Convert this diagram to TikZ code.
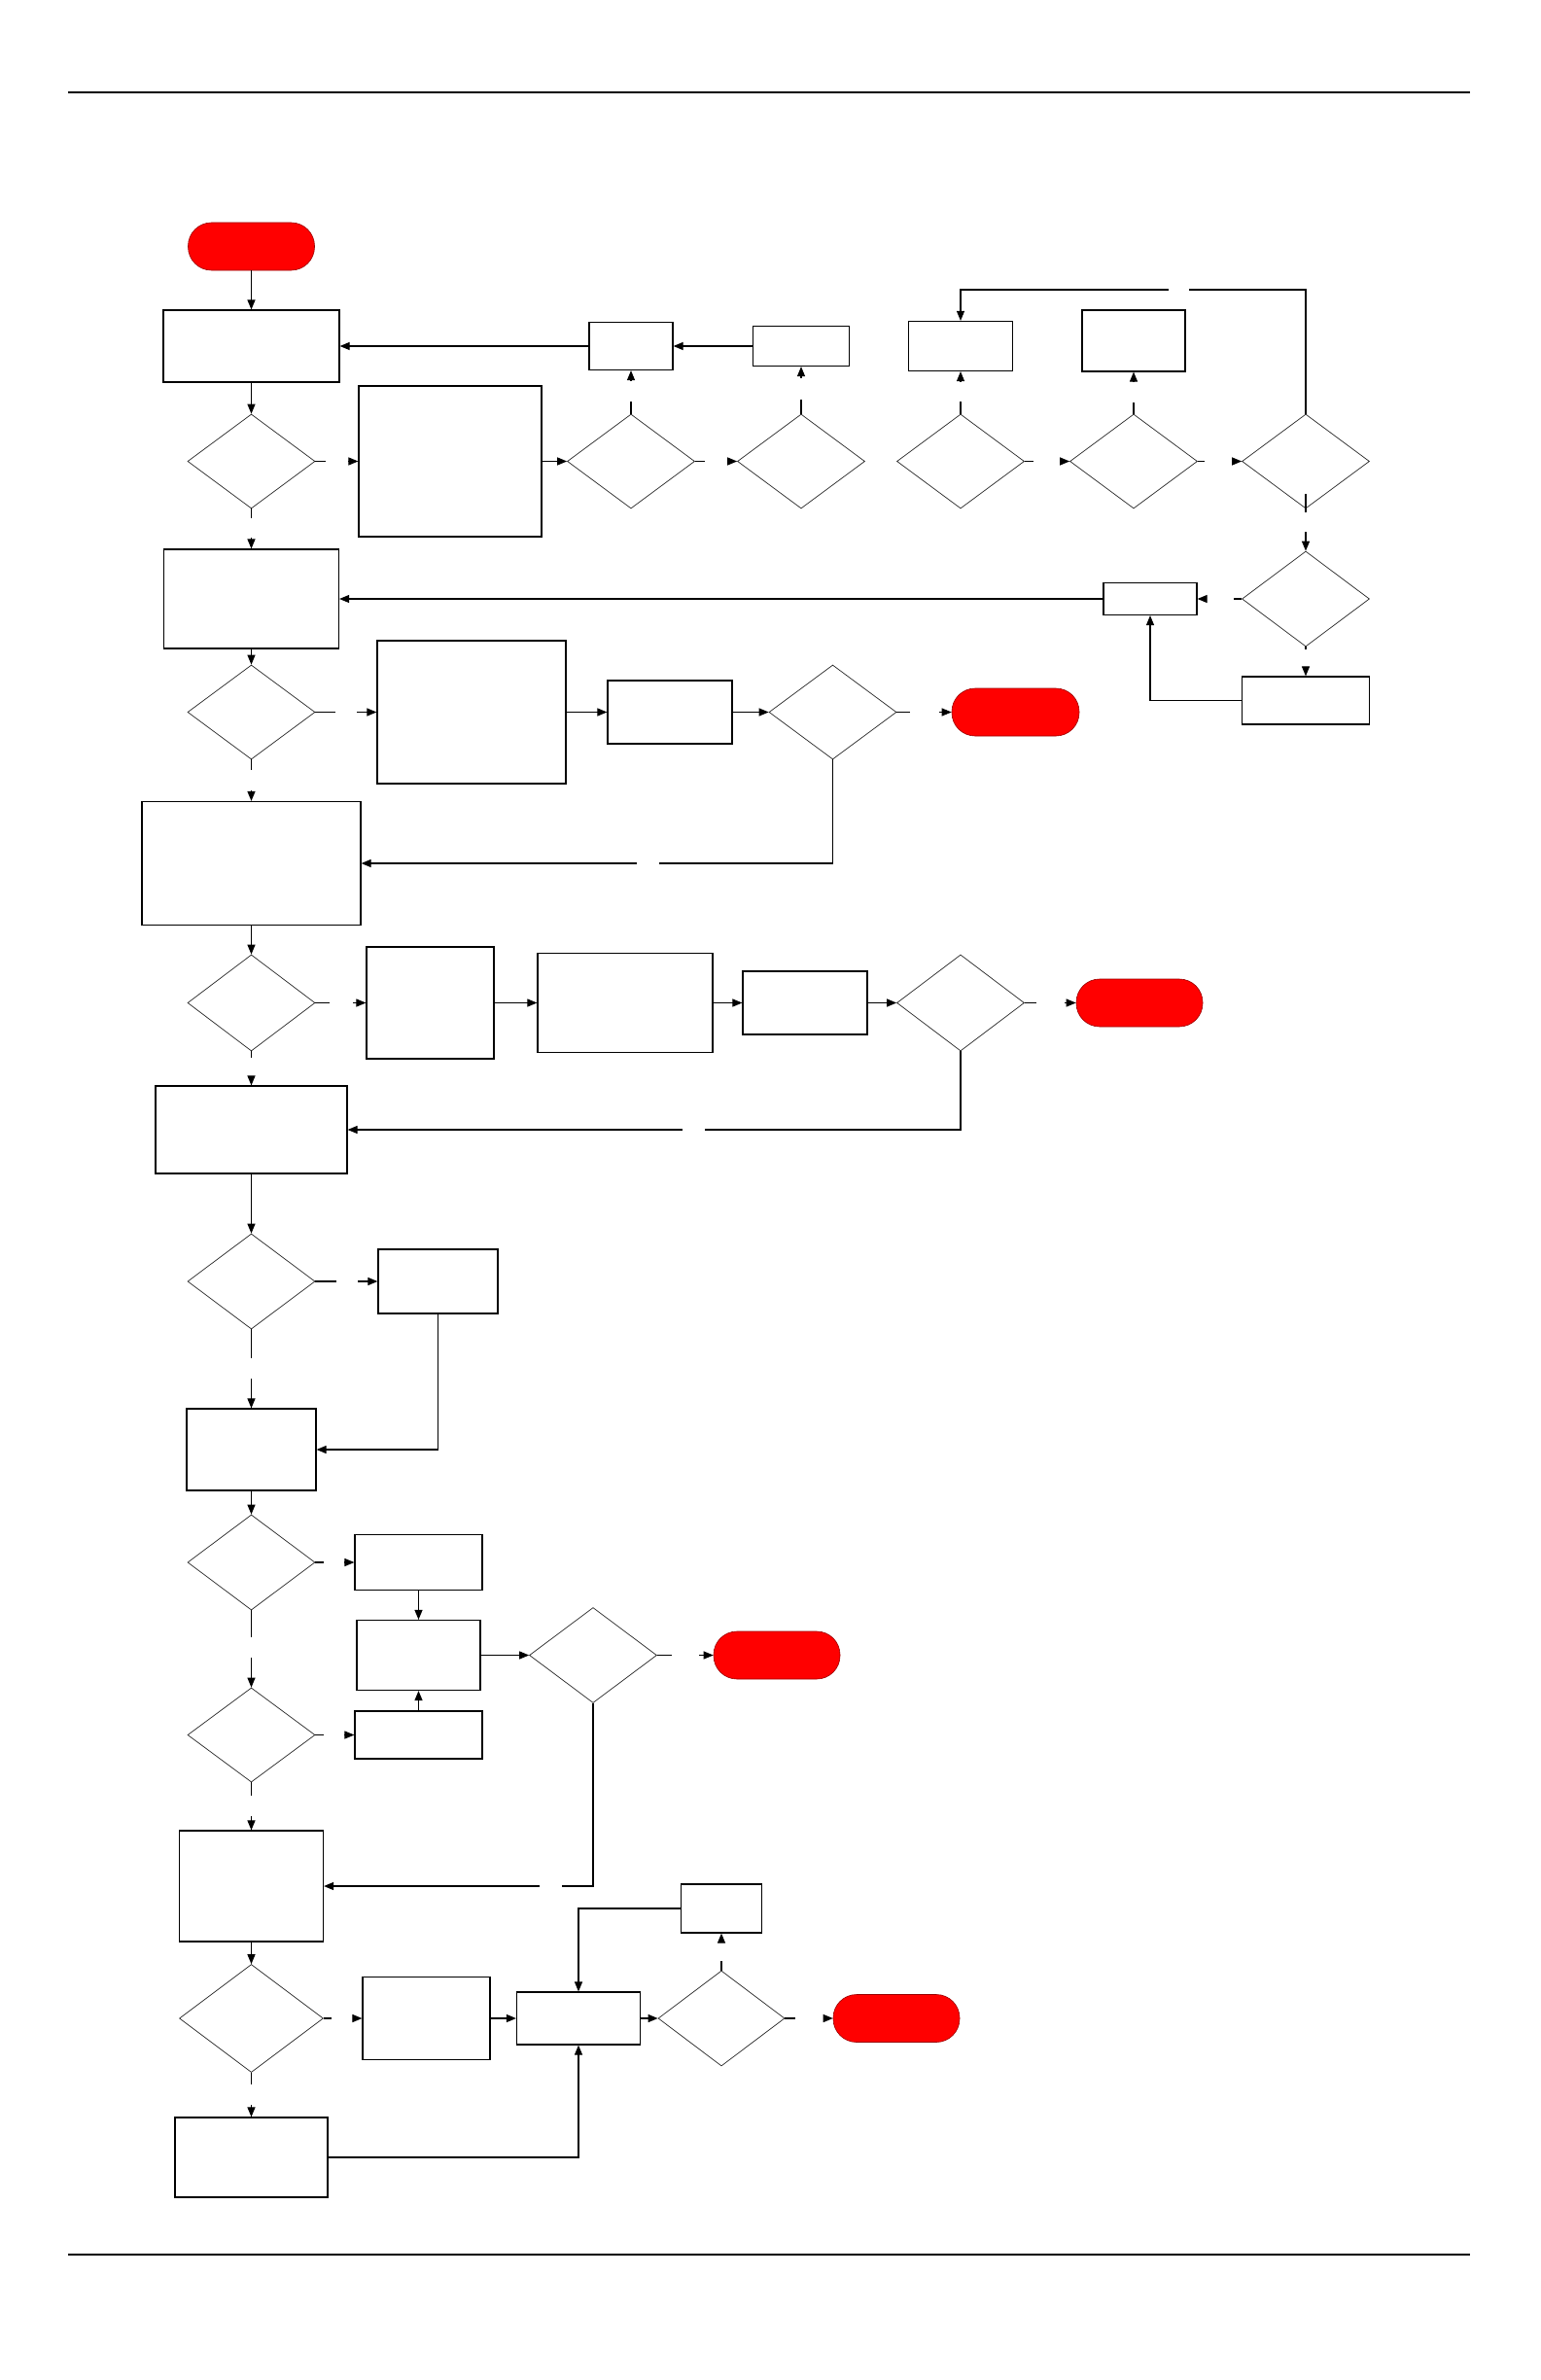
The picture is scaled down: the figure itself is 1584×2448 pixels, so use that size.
\documentclass[tikz,border=0pt]{standalone}
\usetikzlibrary{shapes.geometric,arrows.meta}
\begin{document}
\begin{tikzpicture}[x=1pt,y=-1pt,
 boxn/.style={draw,rectangle,line width=1.2pt,inner sep=0pt},
 decn/.style={draw=black!85,diamond,line width=0.7pt,inner sep=0pt},
 termn/.style={draw=red!60!black,fill=red,rectangle,rounded corners=24pt,line width=0.6pt,inner sep=0pt},
 sz/.style 2 args={minimum width=#1pt,minimum height=#2pt},
 conn/.style={line width=1.1pt},
 arr/.style={conn,-{Triangle[length=10pt,width=8pt]}},
 rulen/.style={line width=1.4pt}]
\path[fill=white] (0,0) rectangle (1584,2448);
\useasboundingbox (0,0) rectangle (1584,2448);
% page rules
\draw[rulen] (70,95) -- (1512,95);
\draw[rulen] (70,2319) -- (1512,2319);
% terminators
\node[termn,sz={130}{49}] (st) at (258.5,253.5) {};
\node[termn,sz={131}{49}] (e1) at (1044.5,732.5) {};
\node[termn,sz={130}{49}] (e2) at (1172,1031.5) {};
\node[termn,sz={130}{49}] (e3) at (799,1702.5) {};
\node[termn,sz={130}{49}] (e4) at (922,2076) {};
% boxes
\node[boxn,sz={181}{74}] (b1) at (258.5,356) {};
\node[boxn,sz={188}{155}] (b2) at (463,474.5) {};
\node[boxn,sz={86}{49}] (bA) at (649,356) {};
\node[boxn,sz={99}{41}] (bB) at (824,356) {};
\node[boxn,sz={107}{51}] (bC) at (988,356) {};
\node[boxn,sz={106}{63}] (bD) at (1166,350.5) {};
\node[boxn,sz={96}{33}] (bE) at (1183,616) {};
\node[boxn,sz={131}{49}] (bF) at (1343,720.5) {};
\node[boxn,sz={180}{102}] (b3) at (258.5,616) {};
\node[boxn,sz={194}{147}] (bG) at (485,732.5) {};
\node[boxn,sz={128}{65}] (bH) at (689,732.5) {};
\node[boxn,sz={225}{127}] (b4) at (258.5,888) {};
\node[boxn,sz={131}{115}] (bI) at (442.5,1031.5) {};
\node[boxn,sz={180}{102}] (bJ) at (643,1031.5) {};
\node[boxn,sz={128}{65}] (bK) at (828,1031.5) {};
\node[boxn,sz={197}{90}] (b5) at (258.5,1162) {};
\node[boxn,sz={123}{66}] (bL) at (450.5,1318) {};
\node[boxn,sz={133}{84}] (b6) at (258.5,1491) {};
\node[boxn,sz={131}{57}] (bM) at (430.5,1607) {};
\node[boxn,sz={127}{72}] (bN) at (430.5,1702.5) {};
\node[boxn,sz={131}{49}] (bO) at (430.5,1784.5) {};
\node[boxn,sz={148}{114}] (b7) at (258.5,1940) {};
\node[boxn,sz={131}{85}] (bP) at (438.5,2076) {};
\node[boxn,sz={127}{54}] (bQ) at (595,2076) {};
\node[boxn,sz={83}{50}] (bR) at (742,1963) {};
\node[boxn,sz={157}{82}] (b8) at (258.5,2219) {};
% decisions
\node[decn,sz={131}{97}] (d1) at (258.5,474.5) {};
\node[decn,sz={131}{97}] (d2) at (649,474.5) {};
\node[decn,sz={131}{97}] (d3) at (824,474.5) {};
\node[decn,sz={131}{97}] (d4) at (988,474.5) {};
\node[decn,sz={131}{97}] (d5) at (1166,474.5) {};
\node[decn,sz={131}{97}] (d6) at (1343,474.5) {};
\node[decn,sz={131}{98}] (d7) at (1343,616) {};
\node[decn,sz={131}{97}] (d8) at (258.5,732.5) {};
\node[decn,sz={131}{97}] (d9) at (856.5,732.5) {};
\node[decn,sz={131}{99}] (d10) at (258.5,1031.5) {};
\node[decn,sz={131}{99}] (d11) at (988,1031.5) {};
\node[decn,sz={131}{98}] (d12) at (258.5,1318) {};
\node[decn,sz={131}{98}] (d13) at (258.5,1607) {};
\node[decn,sz={131}{98}] (d14) at (610,1702.5) {};
\node[decn,sz={131}{97}] (d15) at (258.5,1784.5) {};
\node[decn,sz={148}{111}] (d16) at (258.5,2076) {};
\node[decn,sz={130}{98}] (d17) at (742,2076) {};
% connectors
\draw[arr] (st) -- (b1);
\draw[arr] (b1) -- (d1);
\draw[conn] (d1.east) -- (335,474.5);
\draw[arr] (358,474.5) -- (b2.west);
\draw[arr] (b2.east) -- (d2.west);
\draw[conn] (d2.north) -- (649,413);
\draw[arr] (649,392) -- (bA.south);
\draw[arr] (bA.west) -- (b1.east);
\draw[arr] (bB.west) -- (bA.east);
\draw[conn] (d3.north) -- (824,411);
\draw[arr] (824,389) -- (bB.south);
\draw[conn] (d4.north) -- (988,413);
\draw[arr] (988,392) -- (bC.south);
\draw[conn] (d5.north) -- (1166,414);
\draw[arr] (1166,393) -- (bD.south);
\draw[conn] (d2.east) -- (725,474.5);
\draw[arr] (748,474.5) -- (d3.west);
\draw[conn] (d4.east) -- (1063,474.5);
\draw[arr] (1091,474.5) -- (d5.west);
\draw[conn] (d5.east) -- (1239,474.5);
\draw[arr] (1269,474.5) -- (d6.west);
\draw[conn] (d6.north) |- (1223,298);
\draw[arr] (1202,298) -| (bC.north);
\draw[conn] (1343,508) -- (1343,527);
\draw[arr] (1343,547) -- (d7.north);
\draw[conn] (d7.west) -- (1269,616);
\draw[arr] (1239,616) -- (bE.east);
\draw[arr] (bE.west) -- (b3.east);
\draw[conn] (d7.south) -- (1343,668);
\draw[arr] (1343,688) -- (bF.north);
\draw[arr] (bF.west) -| (bE.south);
\draw[conn] (d1.south) -- (258.5,533);
\draw[arr] (258.5,553) -- (b3.north);
\draw[arr] (b3) -- (d8);
\draw[conn] (d8.east) -- (344.5,732.5);
\draw[arr] (367,732.5) -- (bG.west);
\draw[arr] (bG) -- (bH);
\draw[arr] (bH) -- (d9);
\draw[conn] (d9.east) -- (936,732.5);
\draw[arr] (966,732.5) -- (e1.west);
\draw[conn] (d9.south) |- (678,888);
\draw[arr] (655,888) -- (b4.east);
\draw[conn] (d8.south) -- (258.5,792);
\draw[arr] (258.5,813) -- (b4.north);
\draw[arr] (b4) -- (d10);
\draw[conn] (d10.east) -- (339,1031.5);
\draw[arr] (363,1031.5) -- (bI.west);
\draw[arr] (bI) -- (bJ);
\draw[arr] (bJ) -- (bK);
\draw[arr] (bK) -- (d11);
\draw[conn] (d11.east) -- (1066,1031.5);
\draw[arr] (1095,1031.5) -- (e2.west);
\draw[conn] (d11.south) |- (724.5,1162);
\draw[arr] (702,1162) -- (b5.east);
\draw[conn] (d10.south) -- (258.5,1088);
\draw[arr] (258.5,1109) -- (b5.north);
\draw[arr] (b5) -- (d12);
\draw[conn] (d12.east) -- (345.7,1318);
\draw[arr] (368,1318) -- (bL.west);
\draw[arr] (bL.south) |- (b6.east);
\draw[conn] (d12.south) -- (258.5,1397);
\draw[arr] (258.5,1418) -- (b6.north);
\draw[arr] (b6) -- (d13);
\draw[conn] (d13.east) -- (333,1607);
\draw[arr] (354,1607) -- (bM.west);
\draw[arr] (bM) -- (bN);
\draw[arr] (bN) -- (d14);
\draw[conn] (d14.east) -- (691,1702.5);
\draw[arr] (719,1702.5) -- (e3.west);
\draw[conn] (d13.south) -- (258.5,1684);
\draw[arr] (258.5,1705) -- (d15.north);
\draw[conn] (d15.east) -- (333,1784.5);
\draw[arr] (354,1784.5) -- (bO.west);
\draw[arr] (bO) -- (bN);
\draw[conn] (d15.south) -- (258.5,1847);
\draw[arr] (258.5,1868) -- (b7.north);
\draw[conn] (d14.south) |- (578,1940);
\draw[arr] (555,1940) -- (b7.east);
\draw[arr] (b7) -- (d16);
\draw[conn] (d16.east) -- (341,2076);
\draw[arr] (365,2076) -- (bP.west);
\draw[arr] (bP) -- (bQ);
\draw[arr] (bQ) -- (d17);
\draw[conn] (d17.east) -- (817.6,2076);
\draw[arr] (847.5,2076) -- (e4.west);
\draw[conn] (d17.north) -- (742,2017);
\draw[arr] (742,1996) -- (bR.south);
\draw[arr] (bR.west) -| (bQ.north);
\draw[conn] (d16.south) -- (258.5,2144);
\draw[arr] (258.5,2165) -- (b8.north);
\draw[arr] (b8.east) -| (bQ.south);
\end{tikzpicture}
\end{document}
